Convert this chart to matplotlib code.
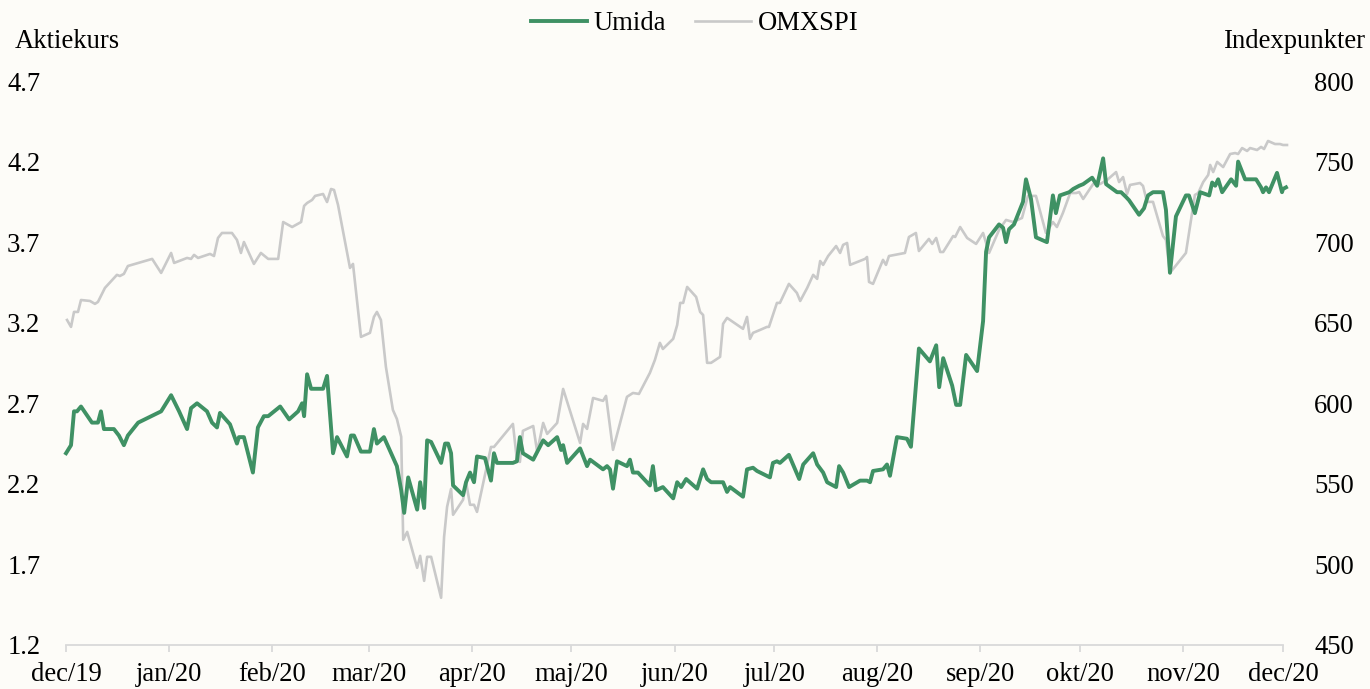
import numpy as np
import pandas as pd
import matplotlib
matplotlib.use("Agg")
import matplotlib.pyplot as plt

plt.rcParams['font.family'] = ['Liberation Serif', 'DejaVu Serif']

# ---- data (days since 2019-12-01) ----
umida_days = [0, 1.5, 2.4, 3.3, 4.5, 7.8, 9.6, 10.5, 11.4, 14.4, 15.9, 17.4, 18.6, 21.7, 28.6, 31.6,
              34.0, 36.4, 37.6, 39.4, 42.4, 43.9, 45.4, 46.3, 49.3, 51.4, 52.0, 53.5, 56.2, 57.7, 59.5,
              60.8, 64.4, 67.1, 69.8, 71.0, 71.6, 72.5, 73.7, 77.3, 78.5, 80.3, 81.5, 84.5, 85.7, 86.6,
              88.7, 91.4, 92.6, 93.5, 95.6, 99.5, 100.8, 101.7, 102.9, 105.6, 106.5, 107.7, 108.6, 109.8,
              112.8, 114.0, 114.9, 115.8, 116.4, 119.4, 120.3, 121.5, 122.7, 123.6, 126.0, 127.8, 128.7,
              129.6, 134.4, 135.6, 136.5, 137.4, 140.5, 143.5, 145.0, 147.7, 148.9, 149.5, 150.7, 154.6,
              156.7, 157.6, 161.5, 162.7, 163.6, 164.5, 165.7, 168.7, 169.6, 170.5, 172.0, 175.6, 176.5,
              177.4, 179.5, 182.6, 183.8, 185.0, 186.5, 189.8, 191.6, 192.8, 194.0, 197.6, 198.8, 199.7,
              203.6, 204.8, 206.6, 207.8, 211.7, 212.6, 213.8, 214.7, 217.4, 220.5, 221.7, 224.7, 225.9,
              227.7, 228.9, 231.6, 232.5, 233.7, 235.5, 238.8, 240.9, 241.8, 242.7, 245.7, 246.9, 247.8,
              249.9, 252.9, 254.1, 256.5, 259.8, 261.7, 262.6, 263.8, 266.5, 267.7, 268.9, 270.7, 274.0,
              275.8, 276.7, 277.6, 280.6, 281.8, 282.7, 283.6, 285.1, 287.8, 288.7, 290.2, 291.7, 295.0,
              296.8, 297.7, 298.9, 301.7, 302.9, 304.7, 305.9, 308.6, 310.1, 311.9, 312.8, 316.1, 317.3,
              318.8, 319.7, 322.7, 324.2, 325.4, 326.9, 329.9, 330.8, 332.0, 333.8, 336.8, 337.7, 339.5,
              341.1, 343.8, 344.7, 345.6, 346.5, 347.7, 350.4, 351.9, 352.5, 354.6, 357.9, 359.4, 360.0,
              360.9, 361.8, 364.2, 365.7, 366.0, 366.9]
umida_vals = [2.39, 2.44, 2.65, 2.65, 2.68, 2.58, 2.58, 2.65, 2.54, 2.54, 2.50, 2.44, 2.50, 2.58, 2.65, 2.75,
              2.65, 2.54, 2.67, 2.70, 2.65, 2.58, 2.55, 2.64, 2.57, 2.45, 2.49, 2.49, 2.27, 2.55, 2.62,
              2.62, 2.68, 2.60, 2.65, 2.70, 2.62, 2.88, 2.79, 2.79, 2.87, 2.39, 2.49, 2.37, 2.50, 2.50,
              2.40, 2.40, 2.54, 2.45, 2.49, 2.31, 2.16, 2.02, 2.24, 2.04, 2.21, 2.05, 2.47, 2.46,
              2.33, 2.45, 2.45, 2.39, 2.19, 2.13, 2.21, 2.27, 2.21, 2.37, 2.36, 2.22, 2.39,
              2.33, 2.33, 2.34, 2.49, 2.39, 2.35, 2.47, 2.44, 2.49, 2.41, 2.44, 2.33, 2.42,
              2.31, 2.35, 2.29, 2.31, 2.29, 2.17, 2.34, 2.31, 2.35, 2.27, 2.27, 2.19, 2.31,
              2.16, 2.18, 2.11, 2.21, 2.18, 2.23, 2.17, 2.29, 2.23, 2.21, 2.21, 2.15, 2.18,
              2.12, 2.29, 2.30, 2.28, 2.24, 2.33, 2.34, 2.33, 2.38, 2.23, 2.32, 2.39, 2.32,
              2.27, 2.21, 2.18, 2.31, 2.27, 2.18, 2.22, 2.22, 2.21, 2.28, 2.29, 2.32, 2.25,
              2.49, 2.48, 2.43, 3.04, 2.96, 3.06, 2.80, 2.98, 2.81, 2.69, 2.69, 3.00, 2.90,
              3.21, 3.64, 3.73, 3.81, 3.79, 3.70, 3.78, 3.81, 3.95, 4.09, 3.97, 3.73, 3.70,
              3.99, 3.88, 3.99, 4.01, 4.03, 4.05, 4.06, 4.10, 4.05, 4.22, 4.06, 4.01, 4.01,
              3.98, 3.96, 3.87, 3.91, 3.99, 4.01, 4.01, 3.90, 3.51, 3.86, 3.99, 3.99, 3.88,
              4.01, 3.99, 4.07, 4.05, 4.09, 4.01, 4.09, 4.05, 4.20, 4.09, 4.09, 4.04, 4.01,
              4.04, 4.01, 4.13, 4.01, 4.03, 4.04]

omx_days = [0.3, 1.5, 2.4, 3.6, 4.5, 7.2, 8.7, 9.6, 11.7, 15.3, 16.2, 17.4, 18.6, 25.9, 28.6, 31.6, 32.5,
            36.4, 37.6, 38.5, 39.7, 43.3, 44.5, 45.7, 46.9, 49.9, 51.4, 52.6, 53.5, 56.5, 58.6, 60.8,
            63.8, 65.3, 68.0, 70.7, 71.6, 72.5, 74.0, 74.9, 77.3, 78.5, 79.7, 80.6, 81.8, 85.4, 86.3,
            88.7, 91.4, 92.6, 93.5, 94.7, 96.2, 98.3, 99.5, 100.8, 101.4, 102.6, 105.6, 106.5, 107.7,
            108.6, 109.8, 112.8, 113.7, 114.6, 115.8, 116.4, 119.4, 120.3, 121.5, 122.7, 123.6, 127.8,
            128.7, 134.4, 135.6, 136.5, 137.4, 140.5, 141.7, 143.5, 144.7, 147.7, 149.5, 154.6, 155.5,
            156.7, 158.5, 161.5, 162.4, 164.5, 168.7, 170.5, 172.3, 175.6, 177.1, 178.6, 179.5, 182.6,
            183.8, 184.7, 185.6, 186.8, 189.5, 190.7, 191.6, 192.8, 194.0, 196.7, 197.6, 198.8, 203.6,
            204.8, 205.7, 206.6, 208.7, 210.8, 211.4, 213.8, 214.7, 217.4, 219.8, 220.8, 222.9, 224.7,
            225.9, 226.8, 227.7, 229.2, 231.6, 232.8, 233.7, 234.9, 235.8, 240.3, 240.9, 241.5, 242.7,
            245.7, 246.6, 247.5, 252.3, 253.5, 255.6, 256.5, 259.5, 260.5, 261.7, 262.9, 263.8, 266.8,
            267.4, 268.9, 271.0, 273.7, 275.8, 277.6, 280.6, 282.7, 284.8, 287.5, 289.3, 291.7, 294.7,
            296.8, 298.0, 299.8, 302.0, 303.8, 304.7, 305.9, 308.9, 311.0, 313.1, 315.8, 316.7, 317.9,
            319.1, 320.0, 323.0, 323.9, 325.1, 326.9, 329.9, 330.8, 332.0, 336.8, 338.0, 339.5, 340.5,
            342.0, 343.5, 344.1, 345.0, 346.2, 348.0, 350.1, 351.6, 352.5, 353.7, 355.2, 356.1, 358.2,
            359.4, 360.3, 361.5, 363.6, 365.1, 366.0, 367.2]
omx_vals = [651.7, 647.4, 656.7, 656.7, 664.1, 663.5, 661.7, 662.9, 671.6, 679.7, 679.0, 680.3, 685.2,
            689.6, 680.9, 693.3, 687.1, 690.2, 689.6, 692.1, 690.2, 692.7, 691.4, 702.6, 705.7, 705.7,
            701.4, 693.3, 700.1, 686.5, 693.3, 689.6, 689.6, 712.5, 709.4, 712.5, 722.5, 724.3, 726.2,
            728.7, 729.9, 724.9, 733.0, 732.4, 723.1, 684.0, 686.5, 641.2, 643.7, 653.6, 656.7, 651.7,
            622.6, 595.9, 590.3, 579.2, 515.3, 520.2, 497.9, 505.3, 489.8, 504.7, 504.7, 479.3, 517.1,
            535.7, 546.9, 530.8, 540.1, 551.2, 537.0, 537.0, 532.6, 572.9, 572.9, 587.2, 564.9, 563.6,
            582.9, 585.9, 569.9, 587.8, 581.0, 587.8, 608.9, 575.4, 587.2, 584.1, 603.3, 601.5, 604.6,
            571.1, 604.0, 606.4, 605.8, 618.9, 626.9, 637.5, 633.7, 640.0, 648.6, 662.3, 662.3, 672.2,
            666.0, 656.7, 654.8, 625.1, 625.1, 628.8, 649.3, 653.0, 646.2, 653.6, 640.0, 643.7, 645.5,
            647.4, 647.4, 662.3, 662.3, 674.1, 668.5, 663.5, 671.6, 679.7, 677.2, 688.3, 685.9, 691.4,
            697.6, 693.3, 698.3, 699.5, 685.9, 689.6, 690.8, 675.3, 674.1, 689.0, 685.9, 691.4, 693.3,
            703.2, 705.7, 694.5, 702.0, 698.9, 702.6, 693.9, 693.9, 703.8, 703.2, 709.4, 702.6, 698.9,
            705.7, 693.3, 707.6, 713.8, 712.5, 715.0, 728.7, 728.7, 705.7, 712.5, 709.4, 718.1, 730.5,
            730.5, 731.1, 726.8, 736.1, 736.1, 738.6, 743.5, 737.3, 740.4, 729.9, 735.5, 736.7, 734.9,
            725.0, 725.0, 703.8, 701.4, 680.9, 693.3, 709.4, 729.3, 730.5, 737.3, 741.7, 747.9, 743.5,
            749.8, 746.6, 754.7, 755.3, 754.7, 758.4, 756.6, 758.4, 757.2, 759.1, 757.8, 762.8, 760.9,
            760.9, 760.3, 760.3]

month_labels = ["dec/19", "jan/20", "feb/20", "mar/20", "apr/20", "maj/20", "jun/20",
                "jul/20", "aug/20", "sep/20", "okt/20", "nov/20", "dec/20"]
left_ticks = [1.2, 1.7, 2.2, 2.7, 3.2, 3.7, 4.2, 4.7]
right_ticks = [450, 500, 550, 600, 650, 700, 750, 800]

start = pd.Timestamp("2019-12-01")
u_dates = start + pd.to_timedelta(umida_days, unit="D")
o_dates = start + pd.to_timedelta(omx_days, unit="D")
month_pos = pd.date_range("2019-12-01", periods=len(month_labels), freq="MS")

BG = "#FDFCF8"
GREEN = "#3F9164"
GREY = "#C9C9C9"
FS = 19.2

fig = plt.figure(figsize=(13.70, 6.89), dpi=100, facecolor=BG)
ax = fig.add_axes([0.0482, 0.0639, 0.9883 - 0.0482 - 0.0518, 0.8824 - 0.0639])
ax.set_facecolor(BG)
ax2 = ax.twinx()

l2, = ax2.plot(o_dates, omx_vals, color=GREY, lw=1.9, label="OMXSPI", clip_on=False,
               solid_joinstyle="round")
l1, = ax.plot(u_dates, umida_vals, color=GREEN, lw=2.8, label="Umida", clip_on=False,
              solid_joinstyle="round")
ax.set_zorder(ax2.get_zorder() + 1)
ax.patch.set_visible(False)
ax2.patch.set_visible(True)
ax2.patch.set_facecolor(BG)

ax.set_xlim(month_pos[0], month_pos[-1])
ax.set_ylim(1.2, 4.7)
ax2.set_ylim(450, 800)

ax.set_yticks(left_ticks)
ax.set_yticklabels([f"{t:.1f}" for t in left_ticks])
ax2.set_yticks(right_ticks)
ax2.set_yticklabels([str(t) for t in right_ticks])
ax.set_xticks(month_pos)
ax.set_xticklabels(month_labels)

for a in (ax, ax2):
    for s in a.spines.values():
        s.set_visible(False)
ax.spines["bottom"].set_visible(True)
ax.spines["bottom"].set_color("#D9D9D9")
ax.spines["bottom"].set_linewidth(1.3)

ax.tick_params(axis="y", left=False, labelsize=FS, pad=15, colors="black")
ax2.tick_params(axis="y", right=False, labelsize=FS, pad=19, colors="black")
ax.tick_params(axis="x", direction="out", length=5, width=1.3, color="#D9D9D9",
               labelsize=FS, pad=7, labelcolor="black")

fig.text(0.011, 0.940, "Aktiekurs", fontsize=FS, va="center", ha="left")
fig.text(0.997, 0.940, "Indexpunkter", fontsize=FS, va="center", ha="right")

fig.legend([l1, l2], ["Umida", "OMXSPI"], loc="center", bbox_to_anchor=(0.507, 0.966),
           ncol=2, frameon=False, fontsize=FS, handlelength=2.1, handletextpad=0.25,
           columnspacing=1.1, borderaxespad=0)

fig.savefig("out.png", dpi=100, facecolor=BG)
